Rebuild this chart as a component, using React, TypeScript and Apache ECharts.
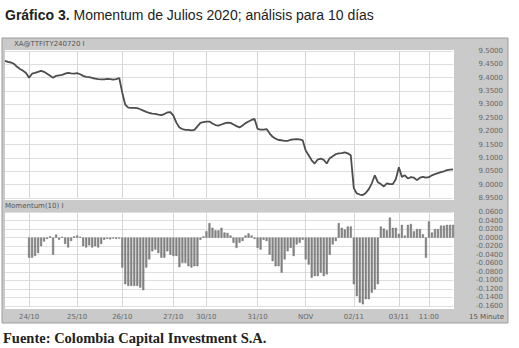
import React, { useEffect, useRef } from "react";
import * as echarts from "echarts";

const priceValues = [
  9.463, 9.459, 9.457, 9.452, 9.441, 9.433, 9.426, 9.418, 9.4, 9.415,
  9.418, 9.422, 9.426, 9.422, 9.415, 9.407, 9.4, 9.407, 9.409, 9.411,
  9.415, 9.418, 9.416, 9.415, 9.417, 9.413, 9.407, 9.403, 9.402, 9.399,
  9.397, 9.395, 9.394, 9.394, 9.396, 9.395, 9.393, 9.395, 9.399, 9.344,
  9.299, 9.288, 9.287, 9.287, 9.286, 9.282, 9.277, 9.272, 9.268, 9.266,
  9.265, 9.262, 9.26, 9.264, 9.27, 9.271, 9.258, 9.232, 9.214, 9.208,
  9.205, 9.205, 9.203, 9.205, 9.218, 9.231, 9.234, 9.236, 9.236, 9.229,
  9.223, 9.221, 9.225, 9.229, 9.232, 9.231, 9.225, 9.219, 9.214, 9.221,
  9.23, 9.236, 9.242, 9.246, 9.209, 9.206, 9.206, 9.208, 9.192, 9.179,
  9.172, 9.167, 9.166, 9.164, 9.164, 9.168, 9.169, 9.17, 9.169, 9.166,
  9.128, 9.11, 9.091, 9.079, 9.094, 9.097, 9.093, 9.079, 9.099, 9.106,
  9.114, 9.117, 9.118, 9.121, 9.117, 9.11, 8.987, 8.967, 8.963, 8.961,
  8.969, 8.983, 9.005, 9.035, 9.009, 9.002, 8.993, 9.005, 9.002, 9.002,
  9.021, 9.065, 9.029, 9.035, 9.023, 9.028, 9.026, 9.017, 9.026, 9.029,
  9.026, 9.028, 9.035, 9.039, 9.043, 9.047, 9.05, 9.054, 9.056, 9.057,
];

const momentumValues = [
  null, null, null, null, null, null, null, null, -0.047, -0.047,
  -0.043, -0.036, -0.02, -0.009, -0.003, 0.003, -0.04, 0.007, -0.005, 0.002,
  -0.015, -0.023, -0.008, 0.003, 0.005, 0.002, -0.02, -0.023, -0.018, -0.023,
  -0.02, -0.023, -0.015, -0.005, -0.003, -0.004, -0.002, -0.003, -0.002, -0.07,
  -0.109, -0.113, -0.113, -0.113, -0.113, -0.117, -0.123, -0.07, -0.051, -0.032,
  -0.028, -0.036, -0.047, -0.047, -0.032, -0.04, -0.043, -0.043, -0.069, -0.059,
  -0.059, -0.067, -0.07, -0.067, -0.067, -0.005, 0.003, 0.015, 0.034, 0.023,
  0.017, 0.017, 0.023, 0.012, 0.011, 0.005, -0.012, -0.024, -0.012, -0.008,
  0.005, 0.01, 0.005, -0.003, -0.024, -0.028, -0.005, -0.008, -0.04, -0.055,
  -0.067, -0.067, -0.082, -0.051, -0.032, -0.024, -0.043, -0.016, -0.012, -0.005,
  -0.051, -0.063, -0.094, -0.09, -0.09, -0.082, -0.09, -0.086, -0.04, -0.016,
  -0.008, 0.034, 0.023, 0.019, 0.026, 0.026, -0.109, -0.137, -0.152, -0.156,
  -0.144, -0.144, -0.129, -0.121, -0.109, 0.026, 0.021, 0.017, 0.047, 0.023,
  0.023, 0.009, 0.03, 0.005, 0.03, 0.032, 0.015, 0.02, 0.02, 0.008,
  -0.047, 0.038, 0.012, 0.02, 0.02, 0.028, 0.028, 0.03, 0.03, 0.03,
];

const dayLabels = ["24/10", "25/10", "26/10", "27/10", "30/10", "31/10", "NOV", "02/11", "03/11", "11:00"];
const dayStartIndex = [8, 24, 39, 56, 67, 84, 100, 116, 131, 141];

const priceMin = 8.95;
const priceMax = 9.5;
const priceStep = 0.05;
const momMin = -0.16;
const momMax = 0.06;
const momStep = 0.02;

const titleBold = "Gráfico 3.";
const titleRest = " Momentum de Julios 2020; análisis para 10 días";
const priceHeader = "XA@TTFITY240720 I";
const momentumHeader = "Momentum(10) I";
const periodLabel = "15 Minute";
const sourceText = "Fuente: Colombia Capital Investment S.A.";

const categories = priceValues.map((_, i) => String(i));

export default function App() {
  const ref = useRef<HTMLDivElement>(null);

  useEffect(() => {
    if (!ref.current) return;
    const chart = echarts.init(ref.current, undefined, { renderer: "svg" });
    const labelFont = { fontFamily: "DejaVu Sans", fontSize: 7, color: "#666" };
    const isDay = (i: number) => dayStartIndex.indexOf(i) >= 0;
    const xCommon = {
      type: "category" as const,
      data: categories,
      boundaryGap: false,
      axisLine: { show: false },
      axisTick: { show: false },
      splitLine: {
        show: true,
        interval: (i: number) => isDay(i),
        lineStyle: { color: "#d6d6d6", width: 1 },
      },
    };
    chart.setOption({
      animation: false,
      backgroundColor: "#ffffff",
      graphic: [
        { type: "rect", z: -10, shape: { x: 2, y: 38, width: 506, height: 285 }, style: { fill: "#cacaca", stroke: "#9c9c9c", lineWidth: 1 } },
        { type: "rect", z: -9, shape: { x: 5, y: 50, width: 449, height: 150 }, style: { fill: "#ffffff" } },
        { type: "rect", z: -9, shape: { x: 5, y: 212, width: 449, height: 97 }, style: { fill: "#ffffff" } },
        {
          type: "text", z: 10, x: 5, y: 15,
          style: {
            text: "{b|" + titleBold + "}" + titleRest,
            font: "14px 'Liberation Sans'",
            fill: "#222",
            verticalAlign: "middle",
            rich: { b: { fontWeight: "bold", fontSize: 14, fontFamily: "Liberation Sans", fill: "#222" } },
          },
        },
        { type: "text", z: 10, x: 14, y: 44, style: { text: priceHeader, font: "7px 'DejaVu Sans'", fill: "#555", verticalAlign: "middle" } },
        { type: "text", z: 10, x: 5, y: 206, style: { text: momentumHeader, font: "7px 'DejaVu Sans'", fill: "#555", verticalAlign: "middle" } },
        { type: "text", z: 10, x: 504, y: 317, style: { text: periodLabel, font: "7px 'DejaVu Sans'", fill: "#555", align: "right", verticalAlign: "middle" } },
        { type: "text", z: 10, x: 3, y: 338, style: { text: sourceText, font: "bold 14.5px 'Liberation Serif'", fill: "#222", verticalAlign: "middle" } },
      ],
      grid: [
        { left: 5, top: 51, width: 448, height: 147 },
        { left: 5, top: 212, width: 448, height: 94 },
      ],
      xAxis: [
        { ...xCommon, gridIndex: 0, axisLabel: { show: false } },
        {
          ...xCommon,
          gridIndex: 1,
          axisLabel: {
            show: true,
            ...labelFont,
            margin: 7,
            interval: (i: number) => isDay(i),
            formatter: (_v: string, i: number) => {
              const k = dayStartIndex.indexOf(i);
              return k >= 0 ? dayLabels[k] : "";
            },
          },
        },
      ],
      yAxis: [
        {
          type: "value",
          gridIndex: 0,
          position: "right",
          min: priceMin,
          max: priceMax,
          interval: priceStep,
          axisLine: { show: false },
          axisTick: { show: false },
          axisLabel: { ...labelFont, align: "right", margin: 50, formatter: (v: number) => v.toFixed(4) },
          splitLine: { lineStyle: { color: "#dedede", width: 1 } },
        },
        {
          type: "value",
          gridIndex: 1,
          position: "right",
          min: momMin,
          max: momMax,
          interval: momStep,
          axisLine: { show: false },
          axisTick: { show: false },
          axisLabel: { ...labelFont, align: "right", margin: 50, formatter: (v: number) => v.toFixed(4) },
          splitLine: { lineStyle: { color: "#dedede", width: 1 } },
        },
      ],
      series: [
        {
          type: "line",
          xAxisIndex: 0,
          yAxisIndex: 0,
          data: priceValues,
          showSymbol: false,
          lineStyle: { color: "#4d4d4d", width: 1.8 },
        },
        {
          type: "bar",
          xAxisIndex: 1,
          yAxisIndex: 1,
          data: momentumValues,
          barWidth: 2,
          itemStyle: { color: "#8a8a8a", borderColor: "#5a5a5a", borderWidth: 0.4 },
        },
      ],
    });
    return () => chart.dispose();
  }, []);

  return <div ref={ref} style={{ position: "fixed", left: 0, top: 0, width: 519, height: 348 }} />;
}
